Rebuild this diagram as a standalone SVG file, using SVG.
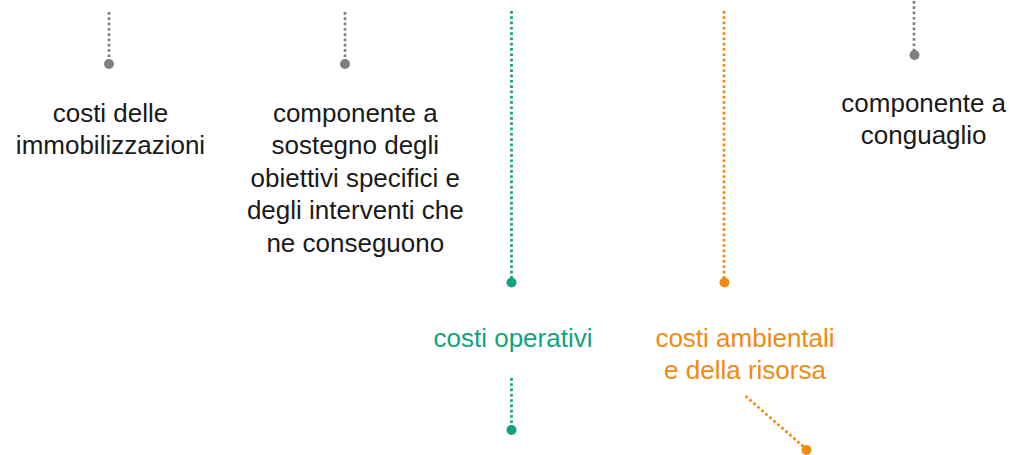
<svg xmlns="http://www.w3.org/2000/svg" width="1011" height="455" viewBox="0 0 1011 455">
<style>
.t{font-family:"Liberation Sans",Arial,sans-serif;font-size:26px;text-anchor:middle;fill:#1a1a1a}
.g{fill:#10a37f}.o{fill:#f08a10}
.ln{fill:none;stroke-width:2.7;stroke-dasharray:2.7 2.6}
.lg{stroke:#7f7f7f}.lgr{stroke:#10a37f}.lor{stroke:#f08a10}
.dg{fill:#7f7f7f}.dgr{fill:#10a37f}.dor{fill:#f08a10}
</style>
<rect width="1011" height="455" fill="#fff"/>
<g id="connectors">
<line class="ln lg" x1="109" y1="12" x2="109" y2="60"/>
<line class="ln lg" x1="345" y1="12" x2="345" y2="60"/>
<line class="ln lgr" x1="511.5" y1="11" x2="511.5" y2="280"/>
<line class="ln lor" x1="724" y1="11" x2="724" y2="280"/>
<line class="ln lg" x1="914" y1="1" x2="914" y2="52"/>
<line class="ln lgr" x1="511.5" y1="378" x2="511.5" y2="427"/>
<line class="ln lor" x1="745.5" y1="396" x2="805" y2="448"/>
<circle class="dg" cx="109" cy="64" r="5"/>
<circle class="dg" cx="345" cy="64" r="5"/>
<circle class="dgr" cx="511.5" cy="282.5" r="5"/>
<circle class="dor" cx="724.5" cy="282.5" r="5"/>
<circle class="dg" cx="914.5" cy="55" r="5"/>
<circle class="dgr" cx="511.5" cy="430" r="5"/>
<circle class="dor" cx="806.5" cy="450" r="5"/>
</g>
<g id="node-immobilizzazioni">
<text class="t" x="110.5" y="122">costi delle</text>
<text class="t" x="110.5" y="153.5">immobilizzazioni</text>
</g>
<g id="node-obiettivi">
<text class="t" x="355.3" y="122">componente a</text>
<text class="t" x="355.3" y="154.4">sostegno degli</text>
<text class="t" x="355.3" y="186.8">obiettivi specifici e</text>
<text class="t" x="355.3" y="219.1">degli interventi che</text>
<text class="t" x="355.3" y="251.5">ne conseguono</text>
</g>
<g id="node-operativi">
<text class="t g" x="513" y="346.5">costi operativi</text>
</g>
<g id="node-ambientali">
<text class="t o" x="745" y="346.7">costi ambientali</text>
<text class="t o" x="745" y="379.3">e della risorsa</text>
</g>
<g id="node-conguaglio">
<text class="t" x="923.7" y="111.7">componente a</text>
<text class="t" x="923.7" y="144">conguaglio</text>
</g>
</svg>
